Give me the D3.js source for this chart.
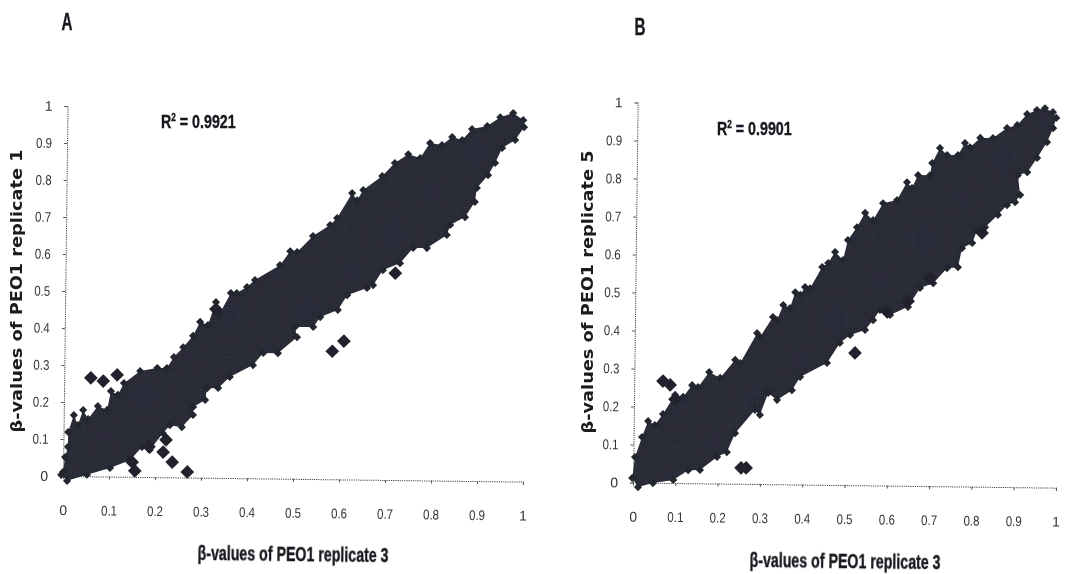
<!DOCTYPE html>
<html>
<head>
<title>PEO1 replicate scatter</title>
<script src="https://cdnjs.cloudflare.com/ajax/libs/d3/7.8.5/d3.min.js"></script>
<style>
    body { margin: 0; background: #fff; }
    .tick text { font-family: "Liberation Sans", sans-serif; font-size: 14px; fill: #333; }
    .tick line { stroke: #555; }
    .domain { stroke: #444; stroke-dasharray: 1.2 1; }
    .ytitle { font-family: "DejaVu Sans", sans-serif; font-weight: bold; font-size: 15px; fill: #1a1a1a; }
    .xtitle, .r2, .panel { font-family: "Liberation Sans", sans-serif; font-weight: bold; fill: #15151c; stroke: #15151c; stroke-width: 0.35px; }
</style>
</head>
<body>
<div id="chart"></div>
<script>
// tick labels shared by both panels
const tickValues = [0, 0.1, 0.2, 0.3, 0.4, 0.5, 0.6, 0.7, 0.8, 0.9, 1];

// Panel A: outline of the point cloud [x, y]
const upperA = [[0,.011],[.004,.051],[.010,.079],[.010,.119],[.022,.165],[.031,.138],[.042,.179],[.053,.155],[.074,.190],[.094,.180],[.102,.231],[.117,.221],[.130,.253],[.165,.286],[.202,.295],[.223,.295],[.238,.325],[.258,.352],[.279,.383],[.294,.421],[.311,.413],[.328,.475],[.337,.446],[.360,.500],[.373,.500],[.395,.517],[.412,.536],[.466,.577],[.488,.615],[.503,.613],[.537,.657],[.574,.687],[.589,.706],[.621,.774],[.632,.755],[.645,.783],[.686,.821],[.713,.857],[.742,.881],[.768,.871],[.789,.912],[.815,.907],[.837,.929],[.859,.921],[.880,.951],[.913,.960],[.941,.984],[.969,.996],[.991,.977]];
const lowerA = [[.993,.958],[.974,.923],[.946,.901],[.931,.860],[.916,.827],[.892,.792],[.888,.754],[.867,.713],[.835,.691],[.828,.664],[.785,.628],[.755,.628],[.727,.586],[.690,.567],[.669,.526],[.656,.518],[.613,.498],[.593,.458],[.555,.438],[.540,.411],[.500,.410],[.505,.383],[.464,.339],[.432,.339],[.410,.306],[.360,.273],[.335,.243],[.311,.242],[.307,.210],[.281,.191],[.281,.169],[.257,.136],[.231,.141],[.216,.119],[.188,.073],[.171,.081],[.145,.045],[.102,.023],[.052,.004],[.009,-.013],[-.004,.003]];
const outliersA = [[.058,.266],[.085,.258],[.115,.275],[.223,.101],[.217,.068],[.237,.041],[.270,.015],[.156,.016],[.150,.040],[.186,.082],[.607,.374],[.582,.346],[.717,.559],[.328,.456]];

// Panel B
const upperB = [[-.002,.012],[.004,.067],[.020,.120],[.034,.162],[.050,.152],[.069,.181],[.097,.232],[.116,.227],[.137,.258],[.151,.253],[.177,.293],[.203,.278],[.238,.326],[.250,.318],[.289,.397],[.296,.387],[.326,.440],[.336,.432],[.350,.472],[.366,.464],[.378,.506],[.390,.499],[.401,.520],[.413,.517],[.441,.573],[.455,.584],[.471,.613],[.490,.592],[.501,.645],[.522,.679],[.541,.717],[.560,.698],[.583,.743],[.616,.752],[.639,.799],[.651,.784],[.665,.818],[.693,.818],[.698,.850],[.716,.890],[.733,.872],[.759,.872],[.775,.904],[.787,.893],[.811,.918],[.841,.918],[.874,.945],[.898,.953],[.921,.982],[.944,.993],[.963,.998],[.982,.988],[.990,.973]];
const lowerB = [[.983,.946],[.969,.909],[.946,.867],[.923,.829],[.901,.821],[.907,.769],[.895,.750],[.876,.742],[.855,.716],[.825,.683],[.806,.675],[.795,.641],[.771,.627],[.762,.577],[.736,.574],[.704,.534],[.673,.521],[.645,.471],[.603,.449],[.579,.462],[.563,.435],[.544,.409],[.509,.395],[.485,.374],[.455,.321],[.392,.283],[.373,.248],[.338,.222],[.317,.240],[.298,.182],[.286,.195],[.240,.133],[.221,.083],[.198,.070],[.158,.035],[.130,.034],[.095,.008],[.047,-.001],[.012,-.012]];
const outliersB = [[.068,.268],[.085,.258],[.255,.042],[.267,.042],[.521,.348],[.645,.486],[.696,.547],[.818,.668],[.596,.457],[.097,.220]];

const width = 1065;
const height = 574;

const svg = d3.select('#chart')
    .append('svg')
    .attr('width', width)
    .attr('height', height)
    .style('display', 'block');

const defs = svg.append('defs');

// the dark cloud has a fine halftone grain in the scan
const pattern = defs.append('pattern')
    .attr('id', 'grain')
    .attr('width', 2)
    .attr('height', 2)
    .attr('patternUnits', 'userSpaceOnUse');
pattern.append('rect').attr('width', 2).attr('height', 2).attr('fill', '#22232e');
pattern.append('rect').attr('width', 1).attr('height', 1).attr('fill', '#3a3c49');
pattern.append('rect').attr('x', 1).attr('y', 1).attr('width', 1).attr('height', 1).attr('fill', '#2c2d39');

// soft edges of the scan
defs.append('filter')
    .attr('id', 'scan')
    .append('feGaussianBlur')
    .attr('stdDeviation', 0.4);

const root = svg.append('g').attr('filter', 'url(#scan)');

function drawPanel(p) {
    // the scanned page is slightly tilted
    const g = root.append('g')
        .attr('transform', `translate(${p.ox},${p.oy}) rotate(0.7)`);

    const x = d3.scaleLinear().domain([0, 1]).range([0, p.w]);
    const y = d3.scaleLinear().domain([0, 1]).range([0, -p.h]);

    g.append('g')
        .call(d3.axisBottom(x).tickValues(tickValues).tickFormat(String).tickSize(3).tickPadding(26));
    g.append('g')
        .call(d3.axisLeft(y).tickValues(tickValues).tickFormat(String).tickSize(3).tickPadding(12));

    // squeeze the decimals, the original font is a narrow one
    g.selectAll('.tick text')
        .filter(d => d > 0 && d < 1)
        .attr('textLength', 16)
        .attr('lengthAdjust', 'spacingAndGlyphs');

    const outline = d3.line().x(d => x(d[0])).y(d => y(d[1])).curve(d3.curveLinearClosed);
    const edge = p.upper.concat(p.lower);
    g.append('path')
        .attr('d', outline(edge))
        .attr('fill', 'url(#grain)');

    // small teeth along the rim of the cloud
    g.selectAll('.rim')
        .data(edge)
        .join('path')
        .attr('class', 'rim')
        .attr('d', d3.symbol(d3.symbolDiamond2, 42))
        .attr('fill', '#24252f')
        .attr('transform', d => `translate(${x(d[0])},${y(d[1])})`);

    g.selectAll('.outlier')
        .data(p.outliers)
        .join('path')
        .attr('class', 'outlier')
        .attr('d', d3.symbol(d3.symbolDiamond2, 120))
        .attr('fill', '#22232e')
        .attr('transform', d => `translate(${x(d[0])},${y(d[1])})`);

    root.append('text').attr('class', 'panel')
        .attr('x', p.labelX).attr('y', p.labelY)
        .attr('font-size', 23)
        .attr('text-anchor', 'middle')
        .attr('textLength', 11)
        .attr('lengthAdjust', 'spacingAndGlyphs')
        .text(p.label);

    const r2 = root.append('text').attr('class', 'r2')
        .attr('transform', `translate(${p.r2X},${p.r2Y}) scale(0.75,1)`)
        .attr('font-size', 19);
    r2.append('tspan').text('R');
    r2.append('tspan').attr('dy', -7).attr('font-size', 11).text('2');
    r2.append('tspan').attr('dy', 7).text(' = ' + p.r2);

    root.append('text').attr('class', 'xtitle')
        .attr('transform', `translate(${p.xTitleX},${p.xTitleY}) rotate(0.7)`)
        .attr('font-size', 20)
        .attr('text-anchor', 'middle')
        .attr('textLength', 191)
        .attr('lengthAdjust', 'spacingAndGlyphs')
        .text('β-values of PEO1 replicate 3');

    root.append('text').attr('class', 'ytitle')
        .attr('transform', `translate(${p.yTitleX},${p.yTitleY}) rotate(-90)`)
        .attr('text-anchor', 'middle')
        .attr('textLength', 283)
        .attr('lengthAdjust', 'spacingAndGlyphs')
        .text(p.yTitle);
}

drawPanel({
    ox: 63, oy: 476, w: 460, h: 370,
    upper: upperA, lower: lowerA, outliers: outliersA,
    label: 'A', labelX: 67, labelY: 30,
    r2: '0.9921', r2X: 161, r2Y: 128,
    xTitleX: 293, xTitleY: 561,
    yTitle: 'β-values of PEO1 replicate 1', yTitleX: 22, yTitleY: 291
});

drawPanel({
    ox: 633, oy: 482.5, w: 423, h: 380,
    upper: upperB, lower: lowerB, outliers: outliersB,
    label: 'B', labelX: 640, labelY: 35,
    r2: '0.9901', r2X: 717, r2Y: 135,
    xTitleX: 845, xTitleY: 568,
    yTitle: 'β-values of PEO1 replicate 5', yTitleX: 593, yTitleY: 292
});
</script>
</body>
</html>
